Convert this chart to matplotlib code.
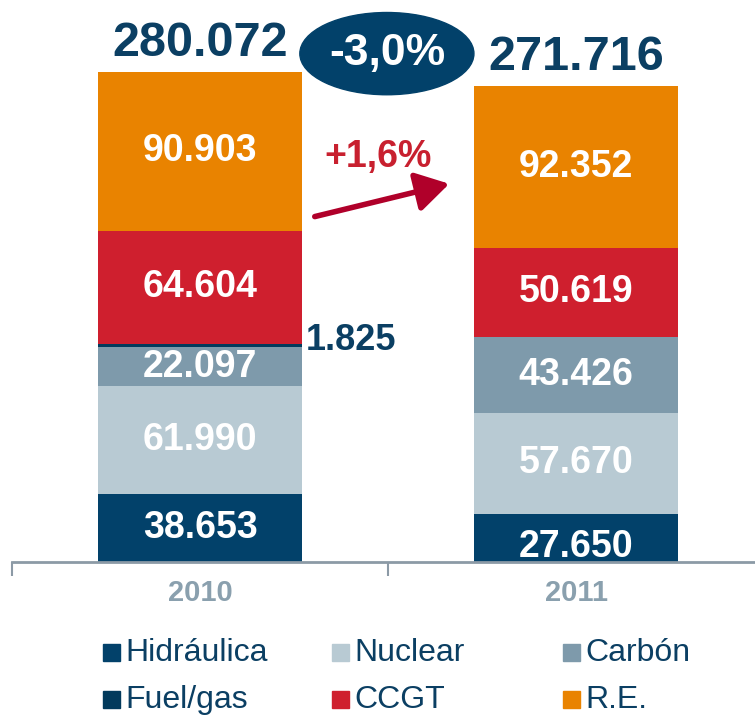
import matplotlib.pyplot as plt
from matplotlib.patches import Ellipse, Rectangle, FancyArrowPatch

plt.rcParams['font.family'] = ['Liberation Sans', 'DejaVu Sans']

# data (GWh)
years = ['2010', '2011']
series = ['Hidráulica', 'Nuclear', 'Carbón', 'Fuel/gas', 'CCGT', 'R.E.']
hidraulica = [38653, 27650]
nuclear = [61990, 57670]
carbon = [22097, 43426]
fuelgas = [1825, 0]
ccgt = [64604, 50619]
re = [90903, 92352]
totals = ['280.072', '271.716']
change_total = '-3,0%'
change_re = '+1,6%'

values = [hidraulica, nuclear, carbon, fuelgas, ccgt, re]
colors = ['#02416a', '#b8cad3', '#7e9aab', '#023a5c', '#cf1f2e', '#e98300']
navy = '#0b3f63'

fig = plt.figure(figsize=(7.55, 7.17), dpi=100)
ax = fig.add_axes([12 / 755, 155 / 717, 743 / 755, 562 / 717])
ax.set_xlim(-0.5, 1.476)
ax.set_ylim(0, 321143)

x = [0, 1]
bottom = [0, 0]
width = 0.545
for name, vals, col in zip(series, values, colors):
    ax.bar(x, vals, width, bottom=bottom, color=col, label=name)
    for i in range(2):
        v = vals[i]
        if v > 5000:
            yc = bottom[i] + v / 2
            if name == 'Hidráulica' and i == 1:
                yc = bottom[i] + v / 2 - 5500
            ax.text(x[i], yc, f'{v / 1000:.3f}', ha='center', va='center',
                    color='white', fontsize=27, fontweight='bold', clip_on=True)
    bottom = [b + v for b, v in zip(bottom, vals)]

# small fuel/gas label
ax.text(0.28, 126500, '1.825', ha='left', va='center', color=navy,
        fontsize=26, fontweight='bold')

# totals on top
for i in range(2):
    ax.text(x[i], bottom[i] + 3500, totals[i], ha='center', va='bottom',
            color=navy, fontsize=35, fontweight='bold')

# -3,0% bubble
ax.add_patch(Ellipse((0.497, 290500), 0.463, 47000, color='#02416a',
                     clip_on=False, zorder=3))
ax.text(0.497, 290500, change_total, ha='center', va='center', color='white',
        fontsize=32, fontweight='bold', zorder=4)

# +1,6% arrow
ax.text(0.473, 231500, change_re, ha='center', va='center', color='#c8202f',
        fontsize=27, fontweight='bold')
ax.add_patch(FancyArrowPatch((0.298, 197000), (0.67, 216500),
                             arrowstyle='-|>,head_length=10,head_width=6',
                             color='#b0002a', lw=4, mutation_scale=2))

# axis
for s in ['top', 'right', 'left']:
    ax.spines[s].set_visible(False)
ax.spines['bottom'].set_color('#8c9aa6')
ax.spines['bottom'].set_linewidth(2)
ax.set_yticks([])
ax.set_xticks(x)
ax.set_xticklabels(years, fontsize=21, fontweight='bold', color='#8aa0ae')
ax.tick_params(axis='x', which='major', length=0, pad=12)
ax.set_xticks([-0.5, 0.5], minor=True)
ax.tick_params(axis='x', which='minor', length=10, width=1.5, color='#8c9aa6')

# legend, laid out by hand
leg_pos = [(103, 653), (332, 653), (563, 653), (103, 700), (332, 700), (563, 700)]
for (px, py), name, col in zip(leg_pos, series, colors):
    fig.add_artist(Rectangle((px / 755, (717 - py - 8) / 717), 17 / 755, 17 / 717,
                             transform=fig.transFigure, color=col))
    fig.text((px + 22) / 755, (717 - py) / 717, name, ha='left', va='center',
             color=navy, fontsize=23)

plt.savefig('out.png', dpi=100)
